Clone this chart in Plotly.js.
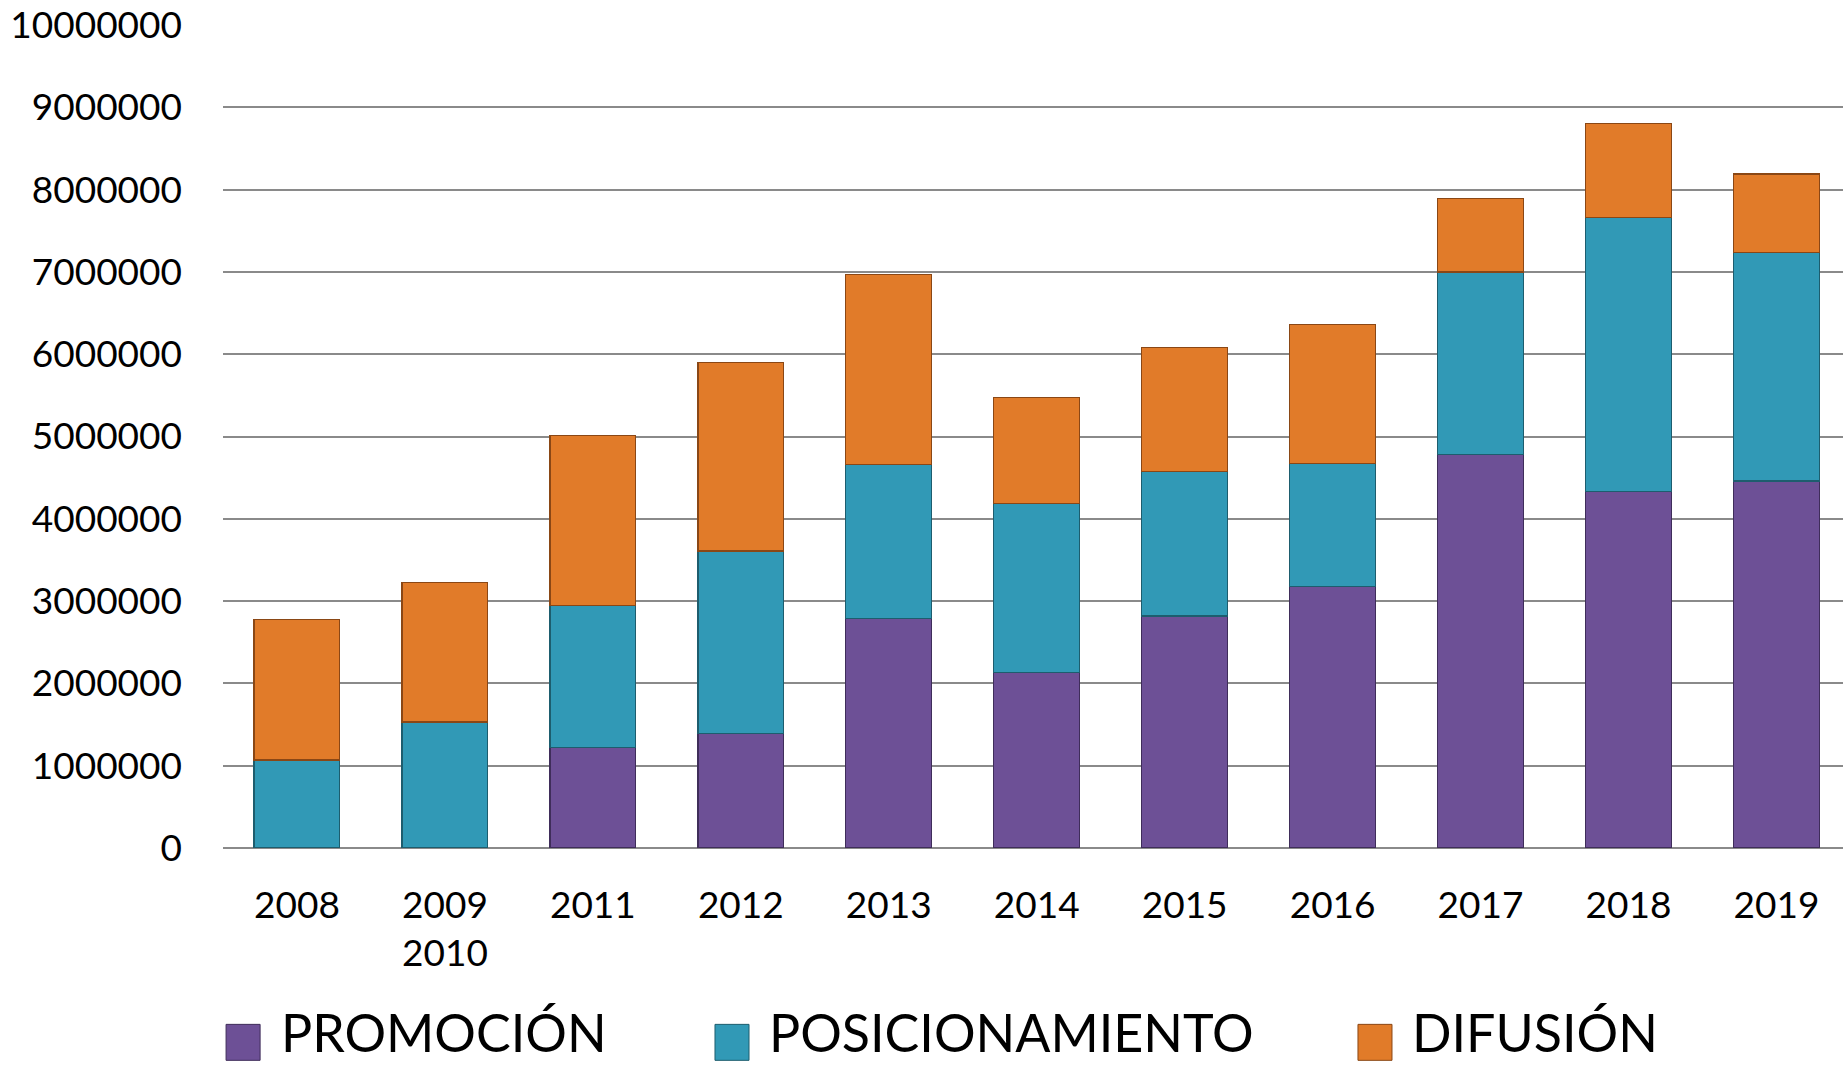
<!DOCTYPE html>
<html>
<head>
<meta charset="utf-8">
<script src="https://cdn.plot.ly/plotly-3.0.1.min.js"></script>
<style>
  html, body { margin: 0; padding: 0; background: #ffffff; }
  #chart { width: 1843px; height: 1066px; }
</style>
</head>
<body>
<div id="chart"></div>
<script>
// ---- Data ----
const categories = ["2008", "2009<br>2010", "2011", "2012", "2013", "2014", "2015", "2016", "2017", "2018", "2019"];
const seriesNames = ["PROMOCIÓN", "POSICIONAMIENTO", "DIFUSIÓN"];
const promocion       = [0, 0, 1220000, 1390000, 2790000, 2130000, 2820000, 3180000, 4780000, 4330000, 4460000];
const posicionamiento = [1070000, 1530000, 1730000, 2220000, 1870000, 2060000, 1750000, 1490000, 2220000, 3330000, 2780000];
const difusion        = [1710000, 1700000, 2060000, 2290000, 2310000, 1280000, 1510000, 1690000, 890000, 1140000, 950000];
const yTicks = [0, 1000000, 2000000, 3000000, 4000000, 5000000, 6000000, 7000000, 8000000, 9000000, 10000000];

// ---- Styles ----
const fills = ["#6d5096", "#3199b6", "#e17b29"];
const edges = ["#3f2d5a", "#1d5d6e", "#8a4715"];
const FONT = "Lato, 'Open Sans', sans-serif";

const seriesValues = [promocion, posicionamiento, difusion];
const xIdx = categories.map((_, i) => i);

const traces = seriesValues.map((vals, s) => ({
  type: "bar",
  name: seriesNames[s],
  x: xIdx,
  y: vals,
  marker: { color: fills[s], line: { color: edges[s], width: 1.2 } },
  hoverinfo: "skip"
}));

// Custom legend (large swatches like the reference)
const legendX = [0.0019, 0.3037, 0.7006];
const swatchW = 0.0210;
const shapes = [];
const annotations = [];
seriesNames.forEach((nm, s) => {
  shapes.push({
    type: "rect", xref: "paper", yref: "paper",
    x0: legendX[s], x1: legendX[s] + swatchW,
    y0: -0.258, y1: -0.2143,
    fillcolor: fills[s], line: { color: edges[s], width: 1 }
  });
  annotations.push({
    xref: "paper", yref: "paper",
    x: legendX[s] + swatchW + 0.012, y: -0.2625,
    xanchor: "left", yanchor: "bottom",
    text: nm, showarrow: false, borderpad: 0,
    font: { family: FONT, size: 52, color: "#000000" }
  });
});

const layout = {
  width: 1843, height: 1066,
  margin: { l: 223, r: 0, t: 25, b: 218 },
  paper_bgcolor: "#ffffff", plot_bgcolor: "#ffffff",
  barmode: "stack",
  bargap: 0.42,
  showlegend: false,
  font: { family: FONT, size: 37, color: "#000000" },
  xaxis: {
    type: "linear",
    range: [-0.5, 10.45],
    tickmode: "array",
    tickvals: xIdx,
    ticktext: categories,
    showgrid: false, zeroline: false, showline: false,
    ticks: "", ticklabelstandoff: 32,
    tickfont: { family: FONT, size: 37, color: "#000000" },
    fixedrange: true
  },
  yaxis: {
    range: [0, 10000000],
    tickmode: "array",
    tickvals: yTicks,
    ticktext: yTicks.map(v => String(v)),
    showgrid: true, gridcolor: "#8a8a8a", gridwidth: 2,
    zeroline: true, zerolinecolor: "#8a8a8a", zerolinewidth: 2,
    showline: false, ticks: "", ticklabelstandoff: 40,
    tickfont: { family: FONT, size: 37, color: "#000000" },
    fixedrange: true
  },
  shapes: shapes,
  annotations: annotations
};

Plotly.newPlot("chart", traces, layout, { displayModeBar: false, staticPlot: true });
</script>
</body>
</html>
